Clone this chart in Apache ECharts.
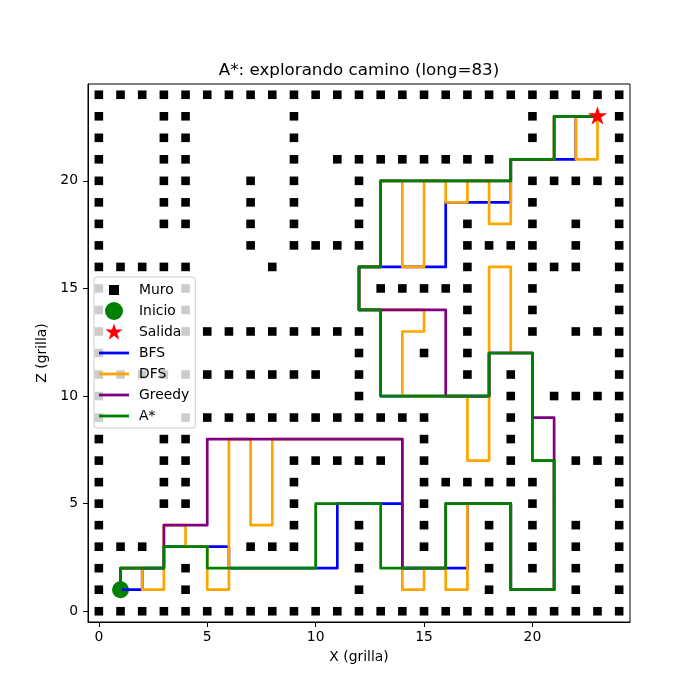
<!DOCTYPE html>
<html><head><meta charset="utf-8">
<script src="https://cdn.jsdelivr.net/npm/echarts@6/dist/echarts.min.js"></script>
<style>html,body{margin:0;padding:0;background:#fff}#c{width:700px;height:700px}</style>
</head><body><div id="c"></div>
<script>
// ---- data ----
const tickValues = [0, 5, 10, 15, 20];
const legendNames = ['Muro', 'Inicio', 'Salida', 'BFS', 'DFS', 'Greedy', 'A*'];
const fullRow = [0,1,2,3,4,5,6,7,8,9,10,11,12,13,14,15,16,17,18,19,20,21,22,23,24];
// wall x positions for each row y = 0..24
const wallRowsX = [
  fullRow,
  [0,4,12,18,22,24],
  [0,4,12,18,20,22,24],
  [0,1,2,7,8,9,12,15,18,20,22,24],
  [0,9,12,15,18,20,22,24],
  [0,3,4,9,15,20,24],
  [0,3,4,9,15,16,17,18,19,20,24],
  [0,3,4,9,10,11,12,13,15,19,22,23,24],
  [0,3,4,15,19,24],
  [0,4,5,6,7,8,9,10,11,12,13,14,15,19,24],
  [0,12,19,21,22,23,24],
  [0,1,2,3,4,5,6,7,8,9,10,12,17,19,24],
  [0,12,15,17,24],
  [0,4,5,6,7,8,9,10,11,12,17,20,22,23,24],
  [0,4,17,20,24],
  [0,4,13,14,15,16,17,20,24],
  [0,1,2,3,4,8,17,20,21,22,24],
  [0,7,9,10,11,12,17,18,19,20,22,24],
  [0,3,4,7,9,12,17,20,22,24],
  [0,3,4,7,9,12,20,24],
  [0,3,4,7,9,12,20,21,22,23,24],
  [0,3,4,9,11,12,13,14,15,16,17,18,24],
  [0,3,4,9,20,24],
  [0,3,4,9,20,24],
  fullRow
];
const startCell = [1, 1];
const exitCell = [23, 23];
// path vertices (grid cells where the path turns)
const bfsPath = [[1,1],[2,1],[2,2],[3,2],[3,3],[6,3],[6,2],[11,2],[11,5],[14,5],[14,2],[17,2],[17,5],[19,5],[19,1],[21,1],[21,7],[20,7],[20,12],[18,12],[18,10],[13,10],[13,14],[12,14],[12,16],[16,16],[16,19],[19,19],[19,21],[22,21],[22,23],[23,23]];
const dfsPath = [[1,1],[1,2],[2,2],[2,1],[3,1],[3,4],[4,4],[4,3],[5,3],[5,1],[6,1],[6,8],[7,8],[7,4],[8,4],[8,8],[14,8],[14,1],[15,1],[15,2],[16,2],[16,1],[17,1],[17,5],[19,5],[19,1],[21,1],[21,7],[20,7],[20,12],[19,12],[19,16],[18,16],[18,7],[17,7],[17,10],[14,10],[14,13],[15,13],[15,14],[12,14],[12,16],[13,16],[13,20],[14,20],[14,16],[15,16],[15,20],[16,20],[16,19],[17,19],[17,20],[18,20],[18,18],[19,18],[19,21],[21,21],[21,23],[22,23],[22,21],[23,21],[23,23]];
const greedyPath = [[1,1],[1,2],[3,2],[3,4],[5,4],[5,8],[14,8],[14,2],[16,2],[16,5],[19,5],[19,1],[21,1],[21,9],[20,9],[20,12],[18,12],[18,10],[16,10],[16,14],[12,14],[12,16],[13,16],[13,20],[19,20],[19,21],[21,21],[21,23],[23,23]];
const astarPath = [[1,1],[1,2],[3,2],[3,3],[5,3],[5,2],[10,2],[10,5],[13,5],[13,2],[16,2],[16,5],[19,5],[19,1],[21,1],[21,7],[20,7],[20,12],[18,12],[18,10],[13,10],[13,14],[12,14],[12,16],[13,16],[13,20],[19,20],[19,21],[21,21],[21,23],[23,23]];

// ---- build ----
const wallPoints = [];
wallRowsX.forEach((xs, y) => xs.forEach(x => wallPoints.push([x, y])));

function starPts(cx, cy, R) {
  const r = R * 0.381966;
  let s = '';
  for (let i = 0; i < 10; i++) {
    const a = (-90 + i * 36) * Math.PI / 180;
    const rr = i % 2 === 0 ? R : r;
    s += (i === 0 ? 'M' : 'L') + (cx + rr * Math.cos(a)).toFixed(3) + ',' + (cy + rr * Math.sin(a)).toFixed(3);
  }
  return s + 'Z';
}
const pad = 'M0,0M35,18';
const icons = {
  'Muro': 'path://' + pad + 'M10,4h10v10h-10z',
  'Inicio': 'path://' + pad + 'M24,9A9,9,0,1,1,6,9A9,9,0,1,1,24,9Z',
  'Salida': 'path://' + pad + starPts(15, 9.4, 9),
  'line': 'path://' + pad + 'M0,7.6h30v2.8h-30z'
};
const starSymbol = 'path://M0,0M22,22' + starPts(11, 11, 10.6);

const FONT = 'DejaVu Sans';
const colors = { BFS: '#0000ff', DFS: '#ffa500', Greedy: '#800080', 'A*': '#008000' };

function pathSeries(name, data) {
  return {
    name: name, type: 'line', data: data, showSymbol: false, symbol: 'none',
    lineStyle: { color: colors[name], width: 2.7, join: 'round', cap: 'square', opacity: 1 },
    itemStyle: { color: colors[name], opacity: 1 }, z: 3, silent: true, clip: true
  };
}

const axisCommon = {
  type: 'value', min: -0.5, max: 24.5,
  axisLine: { show: true, onZero: false, lineStyle: { color: '#000', width: 1 } },
  axisTick: { show: true, inside: false, length: 5, customValues: tickValues, lineStyle: { color: '#000' } },
  splitLine: { show: false },
  nameLocation: 'middle',
  nameTextStyle: { fontFamily: FONT, fontSize: 13.9, color: '#000' }
};

const option = {
  animation: false,
  backgroundColor: '#fff',
  title: {
    text: 'A*: explorando camino (long=83)',
    left: 354, top: 57, textAlign: 'center',
    textStyle: { fontFamily: FONT, fontSize: 16.7, fontWeight: 'normal', color: '#000' }
  },
  grid: { left: 88, right: 70, top: 84, bottom: 78, show: true, borderColor: '#000', borderWidth: 1, backgroundColor: 'transparent' },
  xAxis: Object.assign({}, axisCommon, {
    name: 'X (grilla)', nameGap: 28,
    axisLabel: { customValues: tickValues, margin: 8, fontFamily: FONT, fontSize: 13.9, color: '#000' }
  }),
  yAxis: Object.assign({}, axisCommon, {
    name: 'Z (grilla)', nameGap: 34, nameRotate: 90,
    axisLabel: { customValues: tickValues, margin: 10, fontFamily: FONT, fontSize: 13.9, color: '#000' }
  }),
  legend: {
    orient: 'vertical', left: 94, top: 277,
    itemWidth: 35, itemHeight: 18, itemGap: 3,
    padding: [4, 6, 3, 5],
    backgroundColor: 'rgba(255,255,255,0.8)', borderColor: '#cccccc', borderWidth: 1, borderRadius: 3,
    itemStyle: { borderWidth: 0, opacity: 1 },
    textStyle: { fontFamily: FONT, fontSize: 13.9, color: '#000' },
    selectedMode: false,
    data: legendNames.map(n => ({ name: n, icon: icons[n] || icons.line }))
  },
  series: [
    { name: 'Muro', type: 'scatter', data: wallPoints, symbol: 'rect', symbolSize: 8.6,
      itemStyle: { color: '#000', opacity: 1 }, z: 1, silent: true },
    { name: 'Inicio', type: 'scatter', data: [startCell], symbol: 'circle', symbolSize: 17,
      itemStyle: { color: '#008000', opacity: 1 }, z: 2, silent: true },
    pathSeries('BFS', bfsPath),
    pathSeries('DFS', dfsPath),
    pathSeries('Greedy', greedyPath),
    pathSeries('A*', astarPath),
    { name: 'Salida', type: 'scatter', data: [exitCell], symbol: starSymbol, symbolSize: [21, 21],
      itemStyle: { color: '#ff0000', opacity: 1 }, z: 4, silent: true }
  ]
};
const chart = echarts.init(document.getElementById('c'), null, { renderer: 'canvas' });
chart.setOption(option);
</script></body></html>
